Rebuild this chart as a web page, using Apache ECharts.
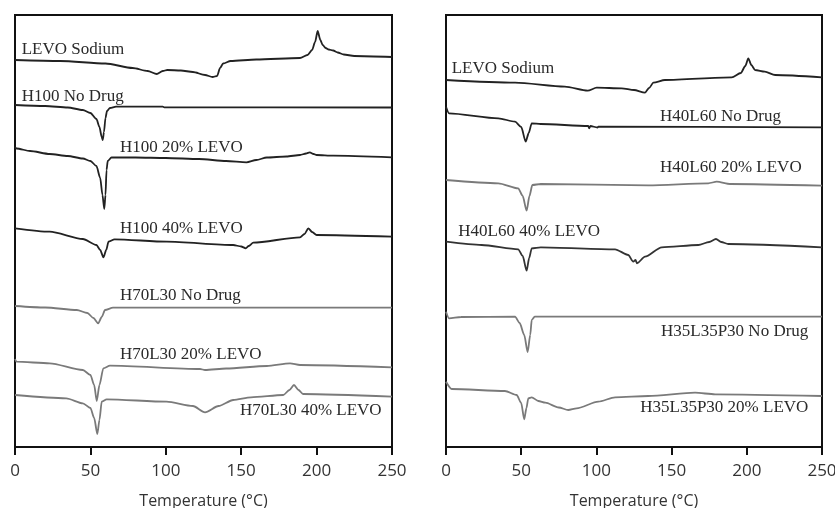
<!DOCTYPE html>
<html>
<head>
<meta charset="utf-8">
<script src="https://cdn.jsdelivr.net/npm/echarts@6/dist/echarts.min.js"></script>
<style>
html,body{margin:0;padding:0;background:#fff;}
#chart{width:835px;height:508px;}
</style>
</head>
<body>
<div id="chart"></div>
<script>
// Temperature axis ticks (°C)
const tempTicks = [0, 50, 100, 150, 200, 250];
const xTitle = 'Temperature (°C)';

// Left panel DSC curves: [temperature °C, heat flow (a.u., offset)]
const leftLevoSodium = [[0,387],[30,386],[60,383.5],[78,379],[88,376],[94,373],[98,376],[101,377],[110,376.5],[118,375],[126,372],[131,370],[134,371],[136,379],[138,383.5],[143,386],[160,387.5],[189,389],[194,392],[197,397],[199,405],[200.7,416],[202.5,407],[204,402],[206,399],[208,397.5],[211,396.5],[214,394.5],[218,392.5],[225,391],[250,390]];
const h100NoDrug = [[0,342],[20,341],[35,339.5],[45,337],[50,334],[54,328],[56,320],[57.5,310],[58.2,307],[59,315],[60,329],[61,336],[63,339],[67,340.3],[98,340.3],[99,339.7],[250,339.5]];
const h100Levo20 = [[0,300],[1,298.5],[10,296],[23,293],[35,291],[45,288.5],[50,286],[54,281],[56.5,269],[58,252],[59.2,238],[60,252],[60.7,277],[61.5,286],[64,289.5],[80,289.5],[100,289],[122,288],[140,286],[153.5,284.7],[160,287],[167,289.5],[180,290.5],[189,292],[193,293.5],[195.5,294.7],[198,293],[200,292],[211,291.3],[250,289.7]];
const h100Levo40 = [[0,218.7],[23,215.3],[45,208],[54,202],[56.5,197],[58.6,189.7],[60.5,197],[62,205.3],[66,207.7],[100.6,205.3],[144.7,202],[150,200.5],[153,198.7],[155,201],[158,204.3],[189,209.7],[192,213],[194.5,218.7],[197,215],[200,212],[250,210.3]];
const h70l30NoDrug = [[0,141],[20,139.5],[41,137],[48,134],[52,129],[55.2,123.7],[57.5,130],[59.7,137],[65,139.3],[250,139.3]];
const h70l30Levo20 = [[0,88],[1,85.3],[23,83.7],[45,77],[50,72],[52.5,62],[54.2,46],[56,62],[58.6,78.7],[63,81.3],[122.7,78],[126,77],[140,78.5],[167,81],[182.4,83.7],[189,82],[250,79.7]];
const h70l30Levo40 = [[0,52],[34,48.7],[45,43.7],[50,39],[52.5,29],[54.6,13],[56,27],[57.5,45.3],[60.8,47.7],[100.5,45.3],[118,41],[126,34.7],[135,41],[144.7,47],[156.5,49.7],[177.9,52],[182,57],[185,62],[188,57],[191,53],[250,50.3]];

// Right panel DSC curves
const rightLevoSodium = [[0,367],[45.9,364.3],[79,360.3],[94.2,356.3],[100.2,359.3],[116.8,358.7],[125,357],[132.3,354.3],[135,359],[137.9,364.3],[145.6,367],[190,369.7],[196,374],[199,381],[201,388.7],[203,382],[205.5,377],[212,375.3],[218.8,372],[250,369.7]];
const h40l60NoDrug = [[0,340.3],[2,333.7],[34.8,328.7],[45.9,325.3],[50,320],[53,305.3],[55,314],[57,323.7],[63,323],[94.6,321],[95.2,318.7],[96,321],[100.7,319.5],[101.3,320.3],[250,319.7]];
const h40l60Levo20 = [[0,267],[34.8,263.7],[48,258.7],[51,251],[53.6,236.3],[55.5,251],[57.4,262],[63,263],[134.5,261.7],[174.4,263.7],[180,265.3],[189,263],[250,261.3]];
const h40l60Levo40 = [[0,205.3],[23.7,202],[48,197.7],[51,191],[53.6,176.3],[55.3,189],[57,198.7],[63,199.7],[112.4,197.7],[121.2,192],[124.5,185.3],[126,187],[127,183.7],[132.3,190.3],[143.4,199.7],[167.8,202],[175,205],[179.5,208],[183,205],[187.7,203],[250,199.7]];
const h35l35p30NoDrug = [[0,135.3],[2,128.7],[10,130],[45.9,130.3],[49,124],[52,112],[54.3,95],[56,112],[57,127],[59,130.3],[250,130.3]];
const h35l35p30Levo20 = [[0,65.3],[3.8,58],[39.2,56],[47,52],[50,44],[52,27.7],[53.5,39],[54.7,48.7],[57,49.7],[61.4,46],[66,44.3],[75,39.5],[81.3,37],[86.8,38.7],[101.3,45.3],[112.4,49.7],[134.5,51],[165.6,54.3],[178.9,52.7],[250,51]];

// Curve labels: [text, temperature, heat flow, align]
const leftLabels = [
  ['LEVO Sodium', 4.4, 397, 'left'],
  ['H100 No Drug', 4.4, 350.3, 'left'],
  ['H100 20% LEVO', 69.6, 299.3, 'left'],
  ['H100 40% LEVO', 69.6, 218.7, 'left'],
  ['H70L30 No Drug', 69.6, 151, 'left'],
  ['H70L30 20% LEVO', 69.6, 92.7, 'left'],
  ['H70L30 40% LEVO', 149.2, 36.3, 'left']
];
const rightLabels = [
  ['LEVO Sodium', 3.8, 378, 'left'],
  ['H40L60 No Drug', 142.3, 330.3, 'left'],
  ['H40L60 20% LEVO', 142.3, 279.7, 'left'],
  ['H40L60 40% LEVO', 8.2, 215.3, 'left'],
  ['H35L35P30 No Drug', 240.9, 115.3, 'right'],
  ['H35L35P30 20% LEVO', 240.9, 39.7, 'right']
];

const leftCurves = [leftLevoSodium, h100NoDrug, h100Levo20, h100Levo40, h70l30NoDrug, h70l30Levo20, h70l30Levo40];
const leftColors = ['#222', '#222', '#222', '#222', '#7a7a7a', '#7a7a7a', '#7a7a7a'];
const rightCurves = [rightLevoSodium, h40l60NoDrug, h40l60Levo20, h40l60Levo40, h35l35p30NoDrug, h35l35p30Levo20];
const rightColors = ['#222', '#222', '#7a7a7a', '#333', '#7a7a7a', '#7a7a7a'];

const chart = echarts.init(document.getElementById('chart'), null, {renderer: 'canvas'});

function xAxisCfg(idx) {
  return {
    type: 'value', gridIndex: idx, min: tempTicks[0], max: tempTicks[tempTicks.length - 1], interval: 50,
    name: xTitle, nameLocation: 'middle', nameGap: 46,
    nameTextStyle: {fontFamily: 'Open Sans', fontSize: 16, color: '#333'},
    axisLine: {show: true, onZero: false, lineStyle: {color: '#111', width: 2}},
    axisTick: {show: true, inside: false, length: 8, lineStyle: {color: '#111', width: 2}},
    axisLabel: {fontFamily: 'Open Sans', fontSize: 17, color: '#333', margin: 16},
    splitLine: {show: false}
  };
}
function yAxisCfg(idx) {
  return {
    type: 'value', gridIndex: idx, min: 0, max: 432,
    show: true, axisLine: {show: false}, axisTick: {show: false}, axisLabel: {show: false}, splitLine: {show: false}
  };
}

function makeSeries(curves, colors, labels, idx) {
  return curves.map((c, i) => {
    const lb = labels[i];
    return {
      type: 'line', xAxisIndex: idx, yAxisIndex: idx, data: c,
      showSymbol: false, smooth: 0.25, smoothMonotone: 'x',
      lineStyle: {color: colors[i], width: 1.8}, silent: true, animation: false,
      markPoint: {
        symbol: 'circle', symbolSize: 0, animation: false, silent: true,
        data: [{
          coord: [lb[1], lb[2]],
          label: {
            show: true, formatter: lb[0], position: [0, 0], align: lb[3], verticalAlign: 'middle',
            fontFamily: 'Liberation Serif', fontSize: 17, color: '#2a2a2a'
          }
        }]
      }
    };
  });
}

chart.setOption({
  animation: false,
  backgroundColor: '#fff',
  grid: [
    {left: 15, top: 15, width: 377, height: 432, show: true, borderColor: '#111', borderWidth: 2, backgroundColor: 'transparent', containLabel: false, outerBoundsMode: 'none'},
    {left: 446, top: 15, width: 376, height: 432, show: true, borderColor: '#111', borderWidth: 2, backgroundColor: 'transparent', containLabel: false, outerBoundsMode: 'none'}
  ],
  xAxis: [xAxisCfg(0), xAxisCfg(1)],
  yAxis: [yAxisCfg(0), yAxisCfg(1)],
  series: makeSeries(leftCurves, leftColors, leftLabels, 0).concat(makeSeries(rightCurves, rightColors, rightLabels, 1))
});
</script>
</body>
</html>
